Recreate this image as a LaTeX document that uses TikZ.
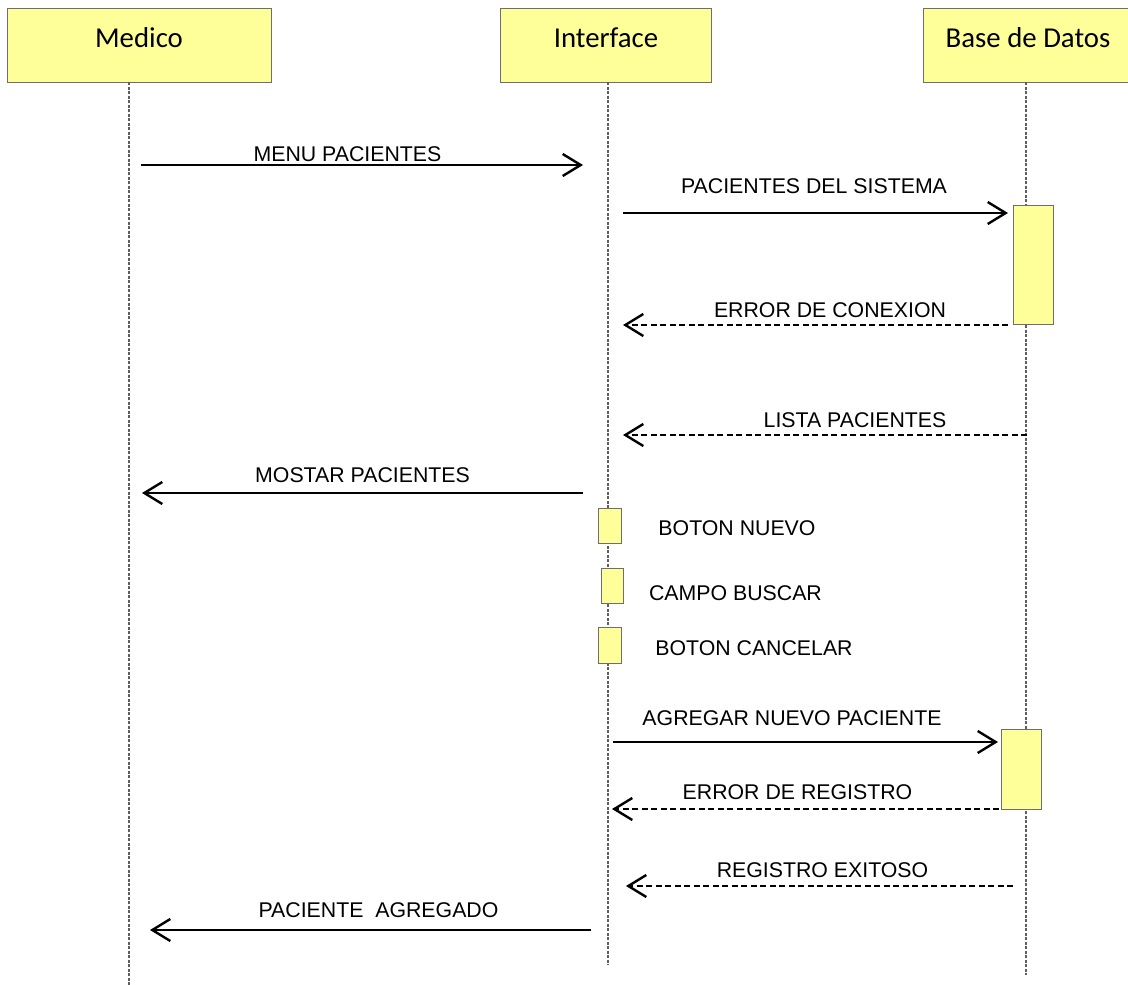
\documentclass[tikz,border=0pt]{standalone}
\usepackage{fontspec}
\setmainfont{Liberation Sans}
\newfontfamily\hdrfont{Carlito}
\usetikzlibrary{arrows.meta}
\definecolor{boxfill}{HTML}{FFFF99}
\definecolor{boxline}{HTML}{6E6E6E}
\definecolor{lifecol}{HTML}{5E5E5E}
\begin{document}
\begin{tikzpicture}[x=1pt,y=-1pt,
  hdr/.style={draw=boxline,fill=boxfill,line width=1pt,minimum height=74pt,inner sep=0pt,anchor=north west},
  hdrtext/.style={anchor=base,font=\hdrfont\fontsize{28.8}{34}\selectfont,inner sep=0pt},
  act/.style={draw=boxline,fill=boxfill,line width=1pt,inner sep=0pt,anchor=north west},
  life/.style={draw=lifecol,line width=1.2pt,dash pattern=on 3pt off 1.5pt},
  msg/.style={draw=black,line width=2pt,-{Straight Barb[length=18pt,width=22pt,line width=2.4pt]}},
  ret/.style={msg,dash pattern=on 6pt off 3.5pt},
  lbl/.style={anchor=base,font=\fontsize{21.3}{25}\selectfont,inner sep=0pt}]
\useasboundingbox (0,0) rectangle (1128,985);
\clip (0,0) rectangle (1128,985);
% headers
\node[hdr,minimum width=264pt] (medico) at (7,8) {};
\node[hdr,minimum width=211pt] (iface) at (500,8) {};
\node[hdr,minimum width=210pt] (bd) at (923,8) {};
\node[hdrtext] (tmed) at (139,47) {Medico};
\node[hdrtext] (tint) at (606,47) {Interface};
\node[hdrtext] (tbd) at (1028,47) {Base de Datos};
% lifelines
\coordinate (medend) at (129,985);
\coordinate (intend) at (608,965);
\coordinate (bdend) at (1026,975);
\draw[life] (129,82) -- (medend);
\draw[life] (608,82) -- (intend);
\draw[life] (1026,82) -- (bdend);
% activation boxes
\node[act,minimum width=40pt,minimum height=119pt] (act1) at (1013,205) {};
\node[act,minimum width=23pt,minimum height=35pt] (act2) at (598,508) {};
\node[act,minimum width=22pt,minimum height=35pt] (act3) at (601,568) {};
\node[act,minimum width=23pt,minimum height=36pt] (act4) at (598,627) {};
\node[act,minimum width=40pt,minimum height=80pt] (act5) at (1001,729) {};
% message endpoints
\coordinate (m1a) at (141,165); \coordinate (m1b) at (583,165);
\coordinate (m2a) at (623,213); \coordinate (m2b) at (1008,213);
\coordinate (m3a) at (1008,325); \coordinate (m3b) at (623,325);
\coordinate (m4a) at (1027,435); \coordinate (m4b) at (623,435);
\coordinate (m5a) at (583,493); \coordinate (m5b) at (142,493);
\coordinate (m6a) at (613,742); \coordinate (m6b) at (998,742);
\coordinate (m7a) at (999,809); \coordinate (m7b) at (612,809);
\coordinate (m8a) at (1013,886); \coordinate (m8b) at (626,886);
\coordinate (m9a) at (591,930); \coordinate (m9b) at (150,930);
\draw[msg] (m1a) -- (m1b);
\draw[msg] (m2a) -- (m2b);
\draw[ret] (m3a) -- (m3b);
\draw[ret] (m4a) -- (m4b);
\draw[msg] (m5a) -- (m5b);
\draw[msg] (m6a) -- (m6b);
\draw[ret] (m7a) -- (m7b);
\draw[ret] (m8a) -- (m8b);
\draw[msg] (m9a) -- (m9b);
% labels
\node[lbl] (l1) at (347.5,161) {MENU PACIENTES};
\node[lbl] (l2) at (814,193) {PACIENTES DEL SISTEMA};
\node[lbl] (l3) at (830,317) {ERROR DE CONEXION};
\node[lbl] (l4) at (855,427) {LISTA PACIENTES};
\node[lbl] (l5) at (362.5,482) {MOSTAR PACIENTES};
\node[lbl] (l6) at (737,535) {BOTON NUEVO};
\node[lbl] (l7) at (735.5,600) {CAMPO BUSCAR};
\node[lbl] (l8) at (754,655) {BOTON CANCELAR};
\node[lbl] (l9) at (792,725) {AGREGAR NUEVO PACIENTE};
\node[lbl] (l10) at (797.5,799) {ERROR DE REGISTRO};
\node[lbl] (l11) at (822.5,877) {REGISTRO EXITOSO};
\node[lbl] (l12) at (378.5,917) {PACIENTE\ \ AGREGADO};
\end{tikzpicture}
\end{document}
